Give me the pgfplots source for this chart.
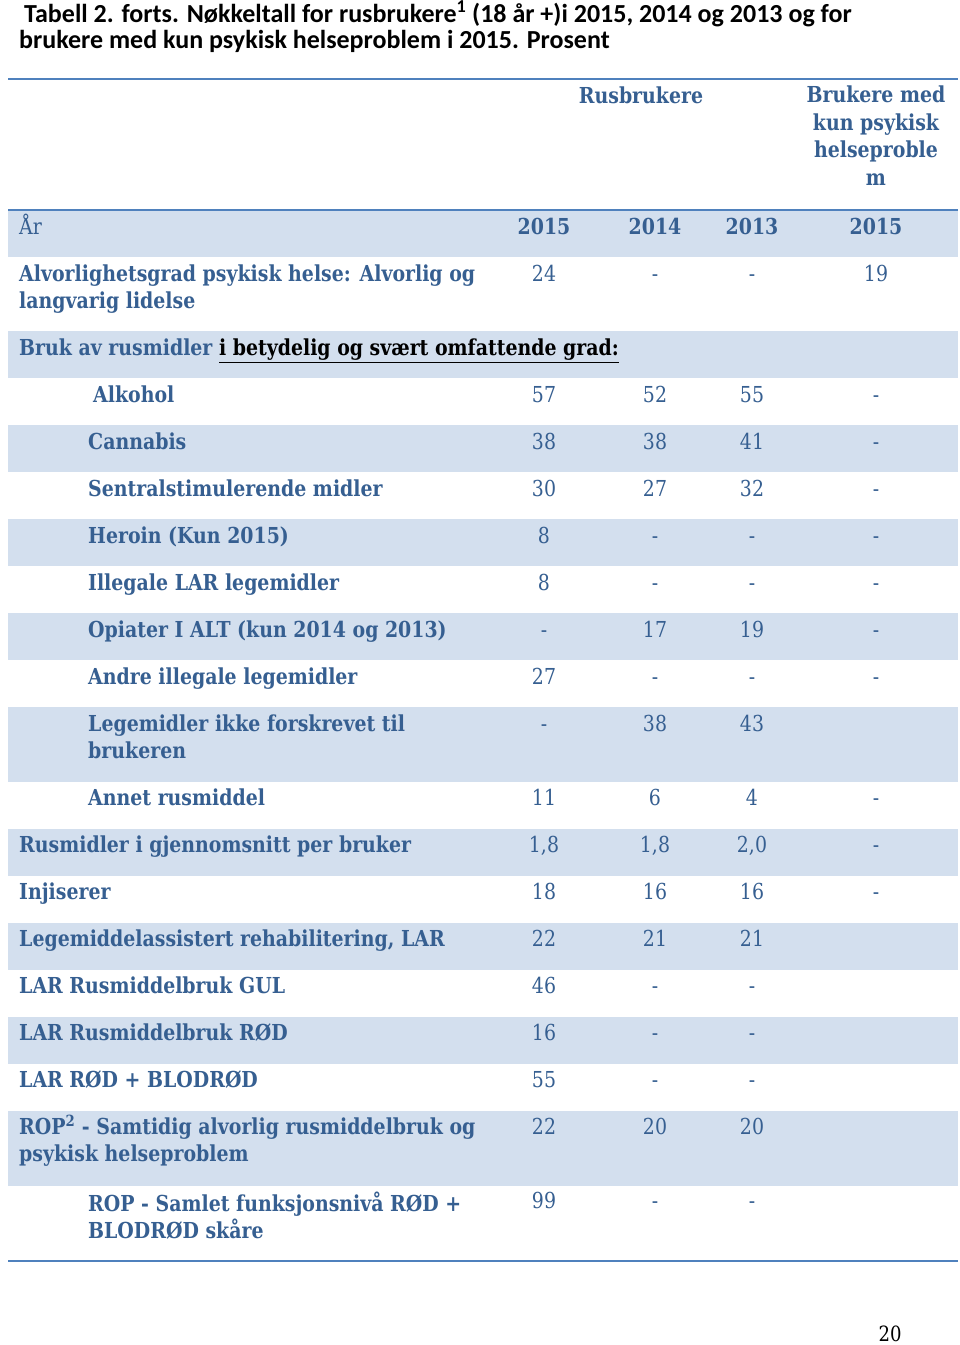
\documentclass[border=0pt]{standalone}
\usepackage{pgfplots}
\usepackage{pgfplotstable}
\pgfplotsset{compat=1.18}
\usepackage{fontspec}
\setmainfont{DejaVu Serif}[FakeStretch=0.86]
\newfontfamily\titlefont{Carlito}
\definecolor{txtblue}{HTML}{365F91}
\definecolor{band}{HTML}{D3DFEE}
\definecolor{rule}{HTML}{4F81BD}

% cells: x y label
\pgfplotstableread{
x y lab
544 273 24
655 273 -
752 273 -
876 273 19
544 394 57
655 394 52
752 394 55
876 394 -
544 441 38
655 441 38
752 441 41
876 441 -
544 488 30
655 488 27
752 488 32
876 488 -
544 535 8
655 535 -
752 535 -
876 535 -
544 582 8
655 582 -
752 582 -
876 582 -
544 629 -
655 629 17
752 629 19
876 629 -
544 676 27
655 676 -
752 676 -
876 676 -
544 723 -
655 723 38
752 723 43
544 797 11
655 797 6
752 797 4
876 797 -
544 844 1,8
655 844 1,8
752 844 2,0
876 844 -
544 891 18
655 891 16
752 891 16
876 891 -
544 938 22
655 938 21
752 938 21
544 985 46
655 985 -
752 985 -
544 1032 16
655 1032 -
752 1032 -
544 1079 55
655 1079 -
752 1079 -
544 1126 22
655 1126 20
752 1126 20
544 1200 99
655 1200 -
752 1200 -
}\cells

\begin{document}
\begin{tikzpicture}
\begin{axis}[
  x=1pt, y=1pt, y dir=reverse,
  xmin=0, xmax=960, ymin=0, ymax=1345,
  scale only axis, hide axis, clip=false,
]
\fill[white] (axis cs:0,0) rectangle (axis cs:960,1345);
% bands
\foreach \a/\b in {210/257, 331/378, 425/472, 519/566, 613/660, 707/782, 829/876, 923/970, 1017/1064, 1111/1186}{
  \edef\tmp{\noexpand\fill[band] (axis cs:8,\a) rectangle (axis cs:958,\b);}\tmp
}
% rules
\draw[rule, line width=2pt] (axis cs:8,79) -- (axis cs:958,79);
\draw[rule, line width=2pt] (axis cs:8,210) -- (axis cs:958,210);
\draw[rule, line width=2pt] (axis cs:8,1261) -- (axis cs:958,1261);

% title
\node[anchor=base west, inner sep=0pt, font=\titlefont\fontsize{26}{27}\selectfont\bfseries, text=black] at (axis cs:24,22) {Tabell 2. forts. Nøkkeltall for rusbrukere\textsuperscript{1} (18 år +)i 2015, 2014 og 2013 og for};
\node[anchor=base west, inner sep=0pt, font=\titlefont\fontsize{26}{27}\selectfont\bfseries, text=black] at (axis cs:19,48) {brukere med kun psykisk helseproblem i 2015. Prosent};

% headers
\tikzset{hdr/.style={font=\fontsize{22}{27.5}\selectfont\bfseries, text=txtblue, inner sep=0pt}}
\node[hdr, anchor=base] at (axis cs:641,103) {Rusbrukere};
\node[hdr, anchor=north, align=center] at (axis cs:876,86) {Brukere med\\kun psykisk\\helseproble\\m};
\node[font=\fontsize{22}{27}\selectfont, text=txtblue, anchor=base west, inner sep=0pt] at (axis cs:19,234) {År};
\node[hdr, anchor=base] at (axis cs:544,234) {2015};
\node[hdr, anchor=base] at (axis cs:655,234) {2014};
\node[hdr, anchor=base] at (axis cs:752,234) {2013};
\node[hdr, anchor=base] at (axis cs:876,234) {2015};

% row labels
\tikzset{lab/.style={font=\fontsize{22}{27.5}\selectfont\bfseries, text=txtblue, anchor=north west, align=left, inner sep=0pt}}
\def\L#1#2#3{\node[lab] at (axis cs:#1,#2-8.5) {#3};}
\L{19}{273}{Alvorlighetsgrad psykisk helse: Alvorlig og\\langvarig lidelse}
\L{19}{347}{Bruk av rusmidler {\color{black}\underline{i betydelig og svært omfattende grad:}}}
\L{93}{394}{Alkohol}
\L{88}{441}{Cannabis}
\L{88}{488}{Sentralstimulerende midler}
\L{88}{535}{Heroin (Kun 2015)}
\L{88}{582}{Illegale LAR legemidler}
\L{88}{629}{Opiater I ALT (kun 2014 og 2013)}
\L{88}{676}{Andre illegale legemidler}
\L{88}{723}{Legemidler ikke forskrevet til\\brukeren}
\L{88}{797}{Annet rusmiddel}
\L{19}{844}{Rusmidler i gjennomsnitt per bruker}
\L{19}{891}{Injiserer}
\L{19}{938}{Legemiddelassistert rehabilitering, LAR}
\L{19}{985}{LAR Rusmiddelbruk GUL}
\L{19}{1032}{LAR Rusmiddelbruk RØD}
\L{19}{1079}{LAR RØD + BLODRØD}
\L{19}{1126}{ROP\smash{\textsuperscript{2}} - Samtidig alvorlig rusmiddelbruk og\\psykisk helseproblem}
\L{88}{1200}{ROP - Samlet funksjonsnivå RØD +\\BLODRØD skåre}

% values
\addplot[only marks, mark=none, point meta=explicit symbolic,
  nodes near coords,
  every node near coord/.style={anchor=base, yshift=-8pt, inner sep=0pt, text=txtblue, font=\fontsize{22}{26}\selectfont}]
  table[x=x, y=y, meta=lab] {\cells};

\node[font=\fontsize{21}{26}\selectfont, text=black, anchor=base, inner sep=0pt] at (axis cs:890,1341) {20};
\end{axis}
\pgfresetboundingbox
\path[use as bounding box] (current axis.south west) rectangle (current axis.north east);
\end{tikzpicture}
\end{document}
